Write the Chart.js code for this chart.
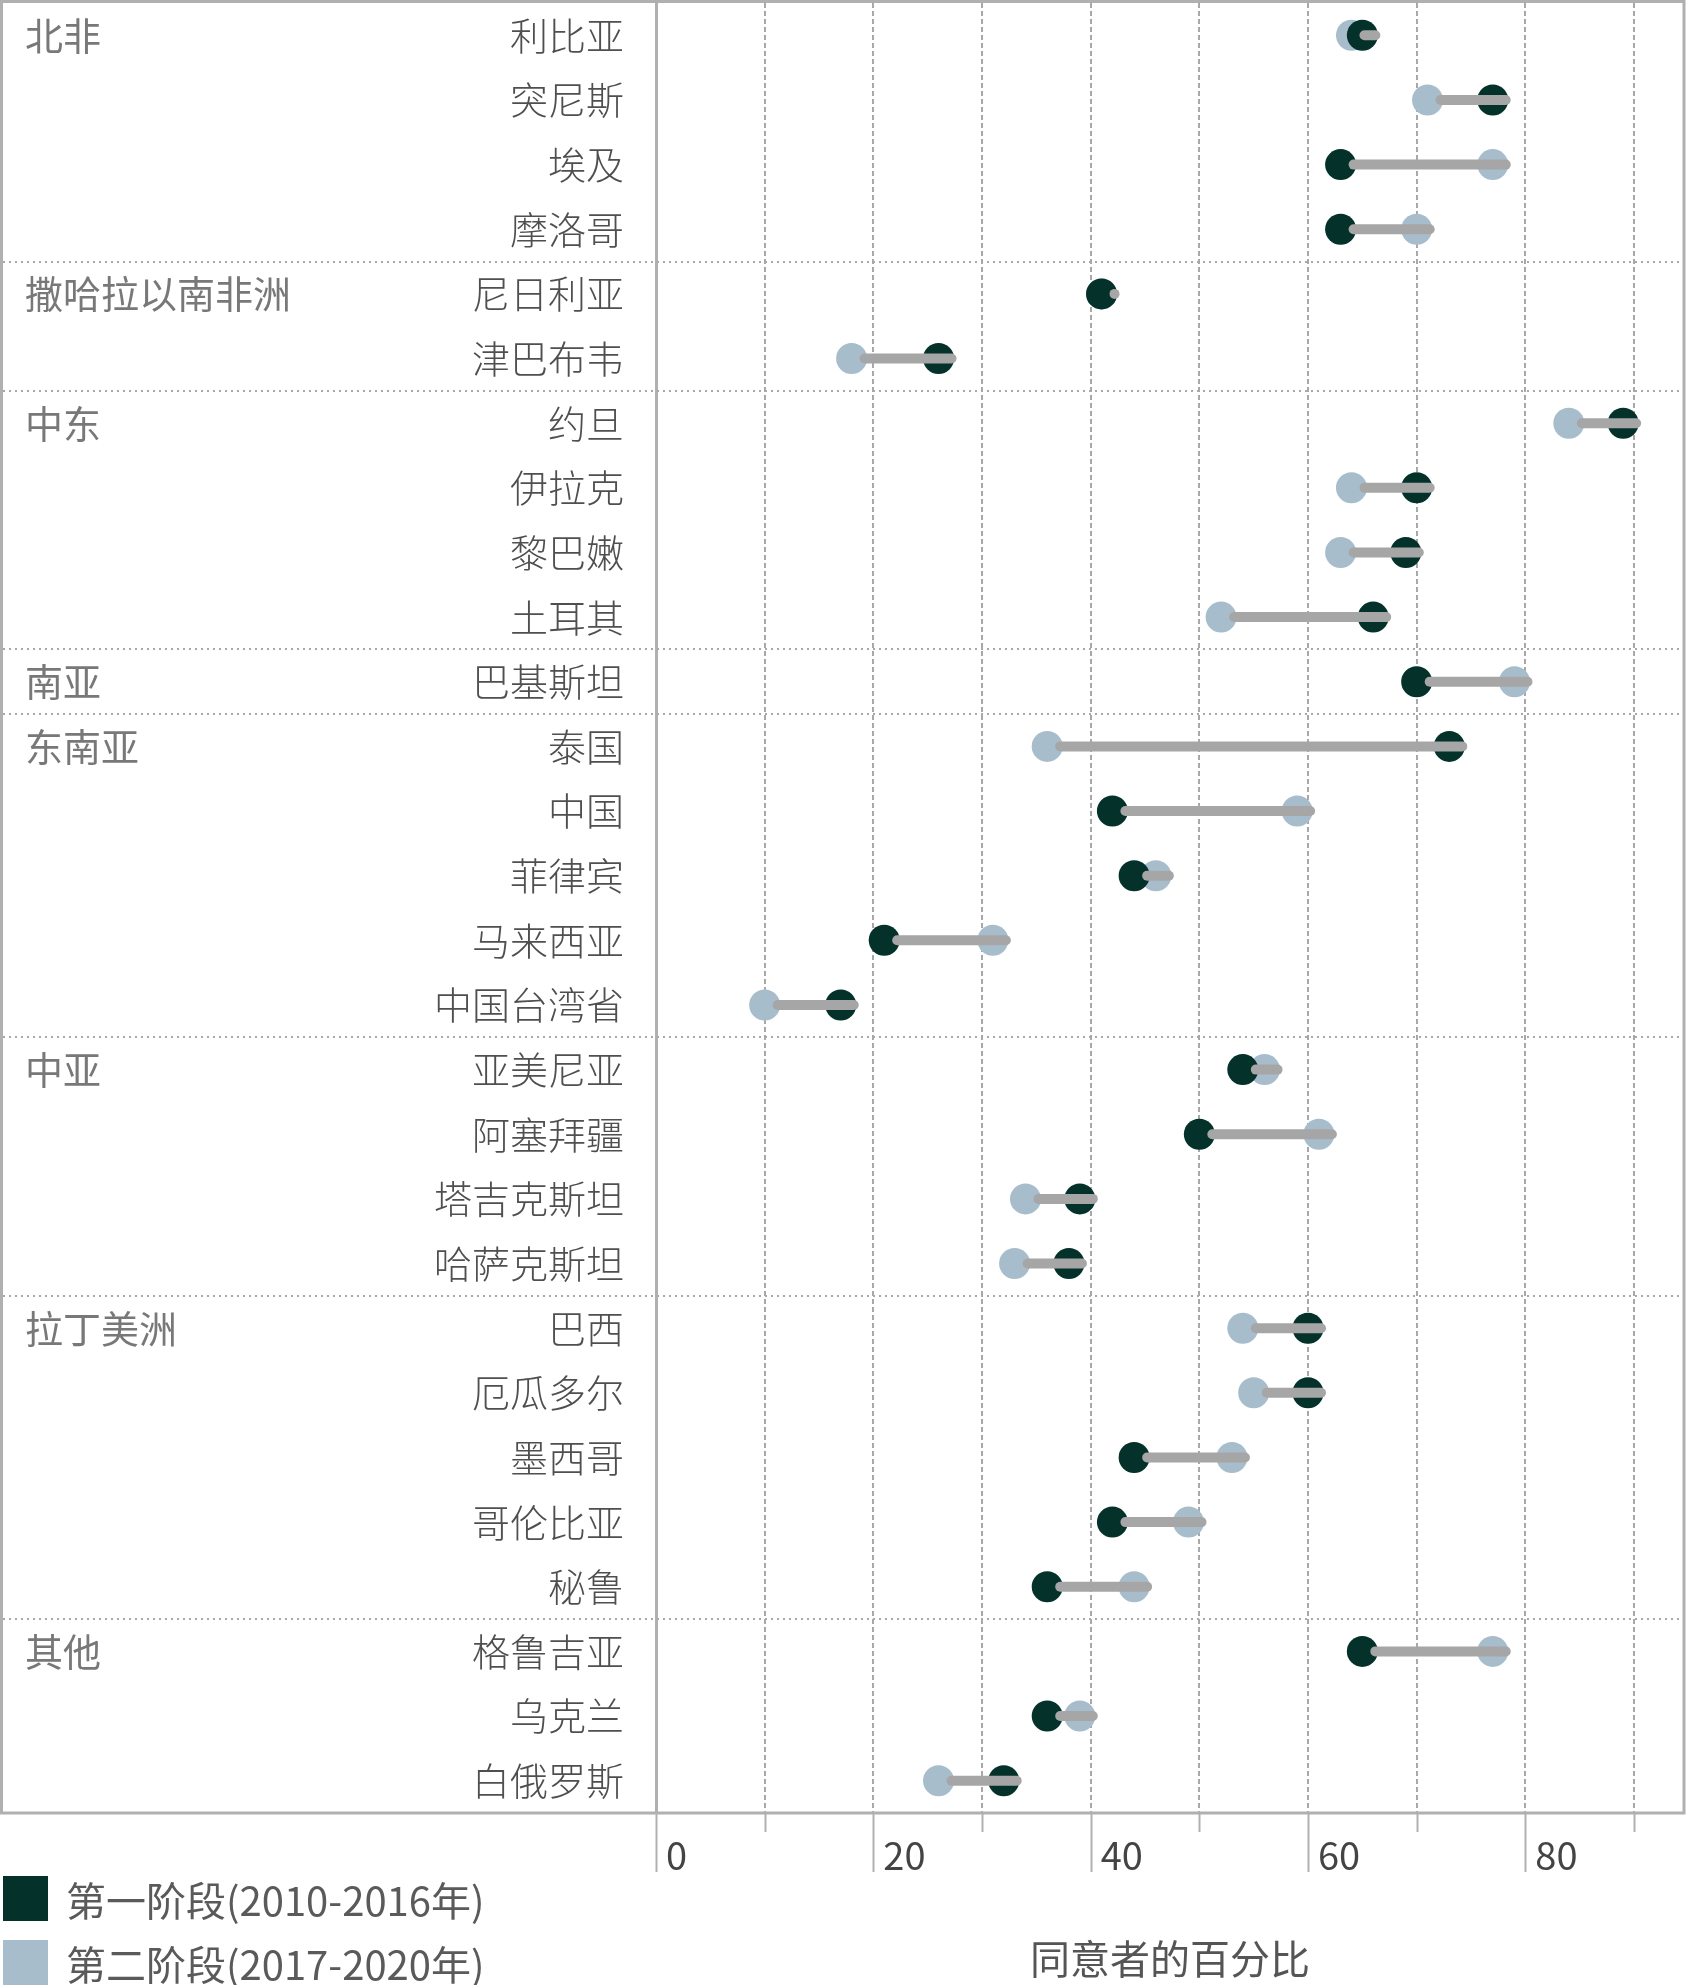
<!DOCTYPE html>
<html lang="zh-CN">
<head>
<meta charset="utf-8">
<title>同意者的百分比</title>
<script src="https://cdn.jsdelivr.net/npm/chart.js@4.4.1/dist/chart.umd.min.js"></script>
<style>
  html, body { margin: 0; padding: 0; background: #fff; }
  #wrap { position: relative; width: 1689px; height: 1985px; overflow: hidden; }
  #legend { position: absolute; left: 3px; top: 1876px; font-family: 'Noto Sans CJK SC', sans-serif; font-size: 40px; color: #5a5a5a; }
  .item { display: flex; align-items: center; height: 45px; margin-bottom: 19px; white-space: nowrap; }
  .box { width: 45px; height: 45px; margin-right: 18px; flex: none; }
</style>
</head>
<body>
<div id="wrap">
  <canvas id="chart" width="1689" height="1985"></canvas>
  <div id="legend"></div>
</div>
<script>
// regions, top to bottom, and how many countries each one holds
let regions = ['北非', '撒哈拉以南非洲', '中东', '南亚', '东南亚', '中亚', '拉丁美洲', '其他']
let regionSizes = [4, 2, 4, 1, 5, 4, 5, 3]

let countries = ['利比亚', '突尼斯', '埃及', '摩洛哥',
  '尼日利亚', '津巴布韦',
  '约旦', '伊拉克', '黎巴嫩', '土耳其',
  '巴基斯坦',
  '泰国', '中国', '菲律宾', '马来西亚', '中国台湾省',
  '亚美尼亚', '阿塞拜疆', '塔吉克斯坦', '哈萨克斯坦',
  '巴西', '厄瓜多尔', '墨西哥', '哥伦比亚', '秘鲁',
  '格鲁吉亚', '乌克兰', '白俄罗斯']

// percent who agree
let phase1 = [65, 77, 63, 63, 41, 26, 89, 70, 69, 66, 70, 73, 42, 44, 21, 17, 54, 50, 39, 38, 60, 60, 44, 42, 36, 65, 36, 32]
let phase2 = [64, 71, 77, 70, 41, 18, 84, 64, 63, 52, 79, 36, 59, 46, 31, 10, 56, 61, 34, 33, 54, 55, 53, 49, 44, 77, 39, 26]

let phaseLabels = ['第一阶段(2010-2016年)', '第二阶段(2017-2020年)']
let xTickLabels = [0, 20, 40, 60, 80]
let axisTitle = '同意者的百分比'

let darkGreen = '#04312a'
let lightBlue = '#a7bdcc'
let lineGray = '#b0b0b0'
let cjk = "'Noto Sans CJK SC', 'Noto Sans', sans-serif"

// extra drawing: frame, region separators, connectors, axis tick marks, region names
let extras = {
  id: 'extras',
  beforeDatasetsDraw(chart) {
    let ctx = chart.ctx
    let y = chart.scales.y
    let area = chart.chartArea
    ctx.save()
    ctx.strokeStyle = '#a8a8a8'
    ctx.lineWidth = 2
    ctx.setLineDash([2, 4])
    let row = 0
    regionSizes.forEach(function (n, i) {
      if (i > 0) {
        let sy = Math.round((y.getPixelForValue(row - 1) + y.getPixelForValue(row)) / 2)
        ctx.beginPath()
        ctx.moveTo(3, sy)
        ctx.lineTo(area.right, sy)
        ctx.stroke()
      }
      row += n
    })
    ctx.restore()
  },
  afterDatasetsDraw(chart) {
    let ctx = chart.ctx
    let x = chart.scales.x
    let y = chart.scales.y
    ctx.save()
    ctx.strokeStyle = '#a6a6a6'
    ctx.lineWidth = 10
    ctx.lineCap = 'round'
    countries.forEach(function (c, i) {
      let a = Math.min(phase1[i], phase2[i])
      let b = Math.max(phase1[i], phase2[i])
      let py = y.getPixelForValue(i)
      // the connector in the original sits a little right of the dots
      ctx.beginPath()
      ctx.moveTo(x.getPixelForValue(a) + 13, py)
      ctx.lineTo(x.getPixelForValue(b) + 13, py)
      ctx.stroke()
    })
    ctx.restore()
  },
  afterDraw(chart) {
    let ctx = chart.ctx
    let x = chart.scales.x
    let y = chart.scales.y
    let area = chart.chartArea
    ctx.save()
    // outer box
    ctx.strokeStyle = lineGray
    ctx.lineWidth = 3
    ctx.strokeRect(1.5, 1.5, area.right - 1.5, area.bottom - 1.5)
    // tick marks under the axis, long ones at labelled values
    ctx.lineWidth = 2
    x.ticks.forEach(function (t) {
      let px = Math.round(x.getPixelForValue(t.value)) + 0.5
      let len = xTickLabels.includes(t.value) ? 59 : 19
      ctx.beginPath()
      ctx.moveTo(px, area.bottom)
      ctx.lineTo(px, area.bottom + len)
      ctx.stroke()
    })
    // region names
    ctx.fillStyle = '#787878'
    ctx.font = '38px ' + cjk
    ctx.textAlign = 'left'
    ctx.textBaseline = 'middle'
    let row = 0
    regions.forEach(function (r, i) {
      ctx.fillText(r, 25, y.getPixelForValue(row))
      row += regionSizes[i]
    })
    ctx.restore()
  }
}

let chart = new Chart(document.getElementById('chart'), {
  type: 'line',
  data: {
    labels: countries,
    datasets: [
      {
        label: phaseLabels[0],
        data: phase1,
        showLine: false,
        backgroundColor: darkGreen,
        borderColor: darkGreen,
        pointRadius: 15.5,
        pointHoverRadius: 15.5,
        pointBorderWidth: 0
      },
      {
        label: phaseLabels[1],
        data: phase2,
        showLine: false,
        backgroundColor: lightBlue,
        borderColor: lightBlue,
        pointRadius: 15.5,
        pointHoverRadius: 15.5,
        pointBorderWidth: 0
      }
    ]
  },
  options: {
    indexAxis: 'y',
    responsive: false,
    animation: false,
    layout: { autoPadding: false, padding: { left: 3, top: 3, right: 5, bottom: 0 } },
    plugins: {
      legend: { display: false },
      tooltip: { enabled: false }
    },
    scales: {
      x: {
        type: 'linear',
        position: 'bottom',
        min: 0,
        max: 94.6,
        grid: { color: '#a8a8a8', lineWidth: 2, drawTicks: false },
        border: { display: false, dash: [5, 3] },
        ticks: {
          stepSize: 10,
          includeBounds: false,
          autoSkip: false,
          maxRotation: 0,
          align: 'start',
          labelOffset: 10,
          padding: 20,
          color: '#444',
          font: { family: cjk, size: 38 },
          callback: function (v) { return xTickLabels.includes(v) ? v : '' }
        },
        title: {
          display: true,
          text: axisTitle,
          color: '#555',
          font: { family: cjk, size: 40 },
          padding: { top: 0, bottom: 2 }
        },
        afterFit: function (scale) {
          scale.height = 172
          scale.paddingLeft = 0
          scale.paddingRight = 0
        }
      },
      y: {
        type: 'category',
        offset: true,
        grid: { display: false, drawTicks: false },
        border: { display: true, color: lineGray, width: 3 },
        ticks: {
          autoSkip: false,
          padding: 32,
          color: '#4f4f4f',
          font: { family: cjk, size: 38, weight: 300 }
        },
        afterFit: function (scale) {
          scale.width = 653
          // rows fill the box from the top frame down, no room kept for label overhang
          scale.paddingTop = 0
          scale.paddingBottom = 0
        }
      }
    }
  },
  plugins: [extras]
})

// legend, two rows at the bottom left
let legendBox = document.getElementById('legend')
chart.data.datasets.forEach(function (ds) {
  let item = document.createElement('div')
  item.className = 'item'
  let box = document.createElement('span')
  box.className = 'box'
  box.style.background = ds.backgroundColor
  let text = document.createElement('span')
  text.textContent = ds.label
  item.appendChild(box)
  item.appendChild(text)
  legendBox.appendChild(item)
})
</script>
</body>
</html>
